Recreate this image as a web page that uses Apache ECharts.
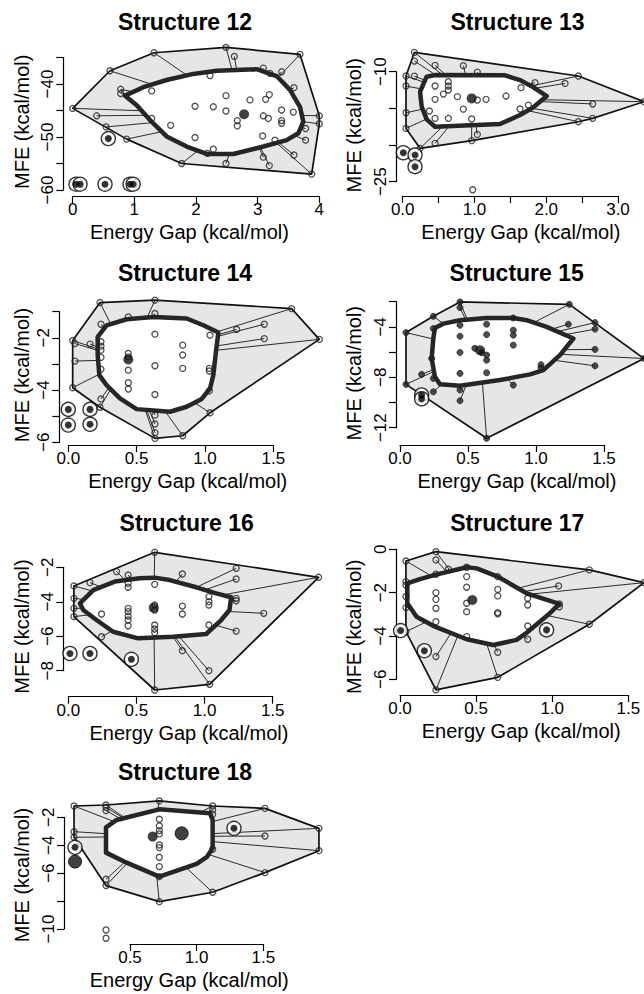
<!DOCTYPE html>
<html><head><meta charset="utf-8">
<script src="https://cdn.jsdelivr.net/npm/echarts@6/dist/echarts.min.js"></script>
<style>html,body{margin:0;padding:0;background:#fff}#c{width:644px;height:994px}</style>
</head><body><div id="c"></div>
<script>
// ---------- data ----------
const s12_hull = [[0,-44.6],[0.605,-37.5],[1.319,-34.1],[2.486,-33.1],[3.686,-34.4],[4.0,-46.0],[4.0,-47.5],[3.876,-57.0],[1.768,-55.0],[0.876,-50.4]];
const s12_bag = [[0.849,-42.2],[1.146,-40.6],[1.524,-39.25],[1.957,-38.1],[2.335,-37.5],[2.984,-37.2],[3.308,-38.5],[3.524,-41.1],[3.686,-44.3],[3.741,-47.1],[3.659,-49.3],[3.470,-50.6],[3.092,-51.8],[2.605,-53.2],[2.173,-53.2],[1.849,-51.8],[1.524,-49.9],[1.254,-46.8],[1.038,-44.0]];
const s12_pts = [[0.778,-41.0],[0.778,-41.8],[0.389,-46.0],[0.541,-48.1],[1.281,-41.3],[1.281,-46.5],[1.589,-47.8],[1.984,-44.2],[1.984,-50.1],[2.281,-44.3],[2.281,-52.3],[2.486,-42.2],[2.486,-45.1],[2.670,-46.9],[2.670,-47.9],[2.876,-43.0],[3.092,-46.0],[3.130,-42.9],[3.189,-42.0],[3.173,-46.5],[3.081,-49.8],[3.281,-50.6],[3.389,-44.9],[3.389,-46.9],[3.389,-47.4],[3.589,-40.7],[3.578,-45.3],[3.778,-48.4],[3.778,-50.6],[3.589,-53.4],[3.189,-55.4],[3.092,-53.8],[2.486,-55.0],[2.184,-53.1],[2.227,-38.4],[3.092,-37.0],[3.2,-38.0],[3.389,-37.7],[2.622,-34.8]];
const s12_out = [[0.054,-58.9],[0.119,-58.9],[0.524,-58.9],[0.930,-58.9],[0.980,-58.9],[0.578,-50.3]];
const s12_center = [2.78,-45.7];
const s12_xTicks = [0,1,2,3,4];
const s12_yTicks = [-60,-50,-40];

const s13_hull = [[0.163,-7.36],[2.448,-10.59],[3.363,-14.09],[2.647,-16.36],[2.448,-16.82],[0.961,-19.4],[0.242,-20.45],[0.046,-17.73],[0.046,-10.59]];
const s13_bag = [[0.334,-10.68],[0.451,-10.45],[1.426,-10.5],[1.635,-11.14],[1.821,-12.14],[2.007,-13.32],[1.821,-14.86],[1.635,-15.9],[1.356,-17.14],[0.451,-17.5],[0.334,-16.5],[0.265,-14.77],[0.242,-12.73]];
const s13_pts = [[0.163,-8.55],[0.451,-9.14],[0.845,-9.18],[1.04,-10.05],[0.163,-10.6],[0.046,-11.95],[0.046,-15.6],[0.451,-11.95],[0.451,-13.77],[0.567,-13.05],[0.636,-11.36],[0.636,-11.95],[0.636,-12.5],[0.762,-13.4],[0.845,-15.1],[0.636,-16.36],[0.451,-16.36],[0.372,-15.36],[0.961,-16.45],[1.04,-13.86],[1.161,-13.77],[1.44,-13.32],[1.04,-18.55],[0.451,-19.77],[1.649,-12.18],[1.844,-11.5],[2.262,-11.6],[1.635,-15.09],[1.751,-14.55],[2.647,-14.4]];
const s13_extra = [[0.975,-26.1]];
const s13_out = [[0.009,-21.05],[0.172,-21.36],[0.172,-22.95]];
const s13_center = [0.961,-13.64];
const s13_xTicks = [0,1,2,3];
const s13_yTicks = [-25,-10];

const s14_hull = [[0.232,-0.65],[0.634,-0.56],[1.634,-0.88],[1.837,-2.06],[1.037,-4.87],[0.837,-5.75],[0.634,-5.85],[0.232,-4.66],[0.032,-3.91],[0.032,-2.1]];
const s14_bag = [[0.215,-1.96],[0.280,-1.52],[0.427,-1.29],[0.622,-1.2],[0.866,-1.26],[0.988,-1.52],[1.098,-1.8],[1.080,-2.54],[1.061,-3.43],[1.037,-3.94],[0.976,-4.34],[0.866,-4.64],[0.744,-4.83],[0.5,-4.73],[0.378,-4.32],[0.280,-3.81],[0.227,-3.43],[0.215,-2.66]];
const s14_pts = [[0.634,-1.07],[0.439,-1.2],[0.239,-1.48],[0.049,-2.22],[0.049,-2.89],[0.159,-2.24],[0.239,-2.15],[0.239,-2.32],[0.239,-2.47],[0.239,-2.75],[0.239,-3.2],[0.634,-1.86],[0.837,-2.28],[0.837,-2.66],[0.837,-3.17],[0.634,-3.07],[0.439,-2.6],[0.439,-2.73],[0.439,-3.24],[0.439,-3.72],[0.439,-3.96],[0.634,-4.17],[1.037,-1.9],[1.232,-1.68],[1.434,-1.48],[1.434,-2.03],[1.032,-3.17],[1.032,-3.27],[1.032,-4.03],[0.634,-4.96],[0.634,-5.3],[0.634,-5.63],[0.239,-4.34]];
const s14_out = [[0,-4.74],[0,-5.34],[0.159,-4.74],[0.159,-5.31]];
const s14_center = [0.439,-2.83];
const s14_xTicks = [0,0.5,1,1.5];
const s14_yTicks = [-6,-4,-2];

const s15_hull = [[0.441,-2.02],[1.245,-2.21],[1.794,-6.51],[0.637,-12.84],[0.044,-8.56],[0.044,-4.45],[0.245,-3.16]];
const s15_bag = [[0.257,-4.08],[0.319,-3.74],[0.441,-3.47],[0.637,-3.29],[0.833,-3.29],[0.931,-3.47],[1.078,-4.0],[1.275,-4.92],[1.176,-6.24],[1.054,-7.43],[0.956,-7.77],[0.735,-8.22],[0.441,-8.67],[0.294,-8.56],[0.257,-7.96],[0.233,-6.51],[0.245,-4.92]];
const s15_pts = [[0.441,-2.47],[0.245,-4.13],[0.441,-3.87],[0.637,-3.79],[0.833,-3.29],[0.833,-4.26],[0.833,-4.66],[0.833,-5.45],[0.637,-4.61],[0.441,-4.74],[0.441,-6.03],[0.637,-6.24],[0.637,-6.64],[0.441,-7.69],[0.637,-7.64],[0.233,-6.51],[0.159,-7.77],[0.245,-8.09],[0.245,-9.15],[0.441,-9.01],[0.441,-9.86],[0.833,-8.62],[1.037,-7.0],[1.037,-7.25],[1.238,-3.79],[1.434,-3.66],[1.434,-4.18],[1.434,-5.79],[1.434,-7.09],[0.55,-5.7],[0.6,-6.05]];
const s15_out = [[0.159,-9.4],[0.159,-9.7]];
const s15_center = [0.588,-5.85];
const s15_xTicks = [0,0.5,1,1.5];
const s15_yTicks = [-12,-8,-4];

const s16_hull = [[0.634,-1.13],[1.837,-2.58],[1.037,-8.79],[0.634,-9.12],[0.041,-4.86],[0.041,-3.08]];
const s16_bag = [[0.085,-4.09],[0.183,-3.32],[0.341,-2.83],[0.524,-2.64],[0.634,-2.6],[0.744,-2.74],[0.939,-3.16],[1.085,-3.51],[1.195,-3.74],[1.183,-4.48],[1.122,-5.06],[1.012,-5.87],[0.768,-6.03],[0.512,-6.12],[0.329,-5.74],[0.207,-5.06],[0.11,-4.48]];
const s16_pts = [[0.041,-3.8],[0.041,-4.38],[0.159,-2.89],[0.354,-2.25],[0.439,-2.45],[0.439,-2.93],[0.439,-3.16],[0.634,-2.99],[0.837,-2.39],[1.232,-2.06],[1.232,-2.68],[1.232,-3.8],[1.232,-3.94],[1.032,-3.7],[1.032,-3.99],[1.032,-4.19],[1.434,-4.67],[1.232,-5.7],[1.032,-5.35],[0.837,-4.25],[0.837,-4.71],[0.634,-4.19],[0.634,-4.48],[0.439,-4.38],[0.439,-4.57],[0.439,-4.83],[0.439,-5.06],[0.439,-5.39],[0.244,-4.71],[0.634,-5.35],[0.634,-5.58],[0.634,-5.79],[0.244,-6.03],[0.837,-6.84],[1.032,-8.0]];
const s16_out = [[0.012,-7.0],[0.159,-7.0],[0.463,-7.34]];
const s16_center = [0.627,-4.34];
const s16_xTicks = [0,0.5,1,1.5];
const s16_yTicks = [-8,-6,-4,-2];

const s17_hull = [[0.039,-0.54],[0.236,-0.11],[1.244,-0.95],[1.603,-1.54],[1.244,-3.46],[0.642,-5.91],[0.236,-6.49],[0.039,-3.8]];
const s17_bag = [[0.048,-1.57],[0.131,-1.38],[0.23,-1.18],[0.438,-0.83],[0.504,-0.88],[0.642,-1.26],[0.832,-2.03],[1.047,-2.52],[0.985,-2.95],[0.832,-3.85],[0.766,-4.18],[0.613,-4.42],[0.438,-4.15],[0.23,-3.57],[0.109,-3.11],[0.048,-2.49]];
const s17_pts = [[0.236,-0.49],[0.318,-0.92],[0.039,-1.49],[0.039,-1.65],[0.039,-2.18],[0.039,-2.69],[0.236,-1.15],[0.236,-2.0],[0.236,-2.31],[0.236,-2.72],[0.236,-3.34],[0.438,-0.83],[0.438,-1.26],[0.438,-1.75],[0.438,-2.49],[0.438,-2.88],[0.642,-1.26],[0.642,-1.85],[0.642,-2.15],[0.642,-2.92],[0.642,-2.98],[0.839,-2.26],[0.839,-2.57],[1.042,-1.69],[1.047,-2.52],[1.047,-2.65],[0.839,-3.54],[0.839,-4.15],[0.642,-4.75],[0.438,-4.03],[0.236,-4.95]];
const s17_out = [[0.004,-3.75],[0.16,-4.68],[0.963,-3.72]];
const s17_center = [0.475,-2.34];
const s17_xTicks = [0,0.5,1,1.5];
const s17_yTicks = [-6,-4,-2,0];

const s18_hull = [[0.08,-1.19],[0.32,-1.12],[0.72,-0.83],[1.12,-1.19],[1.5125,-1.36],[1.9175,-2.79],[1.9175,-4.39],[1.5125,-5.96],[1.12,-7.37],[0.72,-8.04],[0.32,-6.89],[0.08,-3.43]];
const s18_bag = [[0.32,-2.72],[0.4,-2.19],[0.72,-1.43],[1.1,-1.71],[1.12,-2.19],[1.12,-4.22],[1.075,-4.86],[1.0,-5.34],[0.72,-6.25],[0.475,-5.25],[0.32,-4.53]];
const s18_pts = [[0.08,-3.03],[0.32,-1.28],[0.32,-1.52],[0.32,-6.44],[0.72,-2.14],[0.72,-2.62],[0.72,-2.95],[0.72,-3.19],[0.72,-3.98],[0.72,-4.17],[0.72,-4.86],[0.72,-5.53],[0.72,-6.25],[1.12,-1.47],[1.12,-1.79],[1.12,-4.29],[1.5125,-3.34]];
const s18_extra = [[0.32,-10.07],[0.32,-10.66]];
const s18_out = [[0.0875,-4.15],[1.28,-2.79]];
const s18_dense = [[0.0875,-5.17],[0.8875,-3.15]];
const s18_center = [0.67,-3.38];
const s18_xTicks = [0.5,1,1.5];
const s18_yTicks = [-10,-6,-4,-2];

// ---------- layout ----------
const FONT = 'Liberation Sans, Arial, Helvetica, sans-serif';
const panels = [
 {title:'Structure 12', tx:185, ty:21.7, grid:{left:72.7,top:57.5,width:246.6,height:132.5},
  hull:s12_hull, bag:s12_bag, pts:s12_pts, out:s12_out, dense:[], extra:[], center:s12_center,
  x:{min:0,max:4,interval:1,ticks:s12_xTicks,dec:0,offset:6,pad:[0,13,0,0]},
  y:{min:-60,max:-35,interval:5,ticks:s12_yTicks,offset:9.4,gap:31,pad:[0,0,0,4]}},
 {title:'Structure 13', tx:517.5, ty:21.7, grid:{left:402.7,top:71.7,width:215.3,height:110},
  hull:s13_hull, bag:s13_bag, pts:s13_pts, out:s13_out, dense:[], extra:s13_extra, center:s13_center,
  x:{min:0,max:3,interval:0.5,ticks:s13_xTicks,dec:1,offset:14.3,pad:[0,0,0,21]},
  y:{min:-25,max:-10,interval:5,ticks:s13_yTicks,offset:6.7,gap:32,pad:[0,0,0,3]}},
 {title:'Structure 14', tx:185, ty:273, grid:{left:68.3,top:311.7,width:205,height:130.6},
  hull:s14_hull, bag:s14_bag, pts:s14_pts, out:s14_out, dense:[], extra:[], center:s14_center,
  x:{min:0,max:1.5,interval:0.5,ticks:s14_xTicks,dec:1,offset:2.7,pad:[0,0,0,34]},
  y:{min:-6,max:-1,interval:1,ticks:s14_yTicks,offset:9,gap:27,pad:[0,0,0,4]}},
 {title:'Structure 15', tx:516.7, ty:272.5, grid:{left:400,top:301.7,width:204,height:126},
  hull:s15_hull, bag:s15_bag, pts:s15_pts, out:s15_out, dense:[], extra:[], center:s15_center, solid:true,
  x:{min:0,max:1.5,interval:0.5,ticks:s15_xTicks,dec:1,offset:17.3,pad:[0,0,0,30]},
  y:{min:-12,max:-2,interval:2,ticks:s15_yTicks,offset:4,gap:32,pad:[0,17,0,0]}},
 {title:'Structure 16', tx:186.7, ty:523.3, grid:{left:68.3,top:567.3,width:204.4,height:103.4},
  hull:s16_hull, bag:s16_bag, pts:s16_pts, out:s16_out, dense:[], extra:[], center:s16_center,
  x:{min:0,max:1.5,interval:0.5,ticks:s16_xTicks,dec:1,offset:26,pad:[0,0,0,37]},
  y:{min:-8,max:-2,interval:2,ticks:s16_yTicks,offset:5,gap:31,pad:[0,15,0,0]}},
 {title:'Structure 17', tx:517.3, ty:523.3, grid:{left:400,top:549.3,width:228.3,height:130},
  hull:s17_hull, bag:s17_bag, pts:s17_pts, out:s17_out, dense:[], extra:[], center:s17_center,
  x:{min:0,max:1.5,interval:0.5,ticks:s17_xTicks,dec:1,offset:15.7,pad:[0,0,0,14]},
  y:{min:-6,max:0,interval:2,ticks:s17_yTicks,offset:4,gap:32,pad:[0,25,0,0]}},
 {title:'Structure 18', tx:185, ty:771.7, grid:{left:130,top:817.3,width:133.3,height:111.7},
  hull:s18_hull, bag:s18_bag, pts:s18_pts, out:s18_out, dense:s18_dense, extra:s18_extra, center:s18_center,
  x:{min:0.5,max:1.5,interval:0.5,ticks:s18_xTicks,dec:1,offset:15,pad:[0,15,0,0]},
  y:{min:-10,max:-2,interval:2,ticks:s18_yTicks,offset:66,gap:32,pad:[0,4,0,0]}}
];

// ---------- geometry helpers (data space) ----------
function inPoly(p, poly){
  let c=false;
  for(let i=0,j=poly.length-1;i<poly.length;j=i++){
    const a=poly[i], b=poly[j];
    if(((a[1]>p[1])!==(b[1]>p[1])) && (p[0] < (b[0]-a[0])*(p[1]-a[1])/(b[1]-a[1])+a[0])) c=!c;
  }
  return c;
}
function cutBag(p, c, poly){
  const dx=c[0]-p[0], dy=c[1]-p[1];
  let best=Infinity, hit=null;
  for(let i=0;i<poly.length;i++){
    const a=poly[i], b=poly[(i+1)%poly.length];
    const ex=b[0]-a[0], ey=b[1]-a[1];
    const den=dx*ey-dy*ex;
    if(Math.abs(den)<1e-12) continue;
    const t=((a[0]-p[0])*ey-(a[1]-p[1])*ex)/den;
    const u=((a[0]-p[0])*dy-(a[1]-p[1])*dx)/den;
    if(t>=0 && t<=1 && u>=0 && u<=1 && t<best){best=t; hit=[p[0]+t*dx,p[1]+t*dy];}
  }
  return hit;
}
function fmt(v,dec){ const s=Math.abs(v).toFixed(dec); return (v<-1e-9?'\u2212':'')+s; }

const option = {animation:false, backgroundColor:'#fff', title:[], grid:[], xAxis:[], yAxis:[], series:[]};

panels.forEach((P,i)=>{
  option.title.push({text:P.title, left:P.tx, top:P.ty, textAlign:'center', textVerticalAlign:'middle', padding:0,
    textStyle:{fontSize:23, fontWeight:'bold', color:'#000', fontFamily:FONT}});
  option.grid.push(Object.assign({containLabel:false, outerBoundsMode:'none'}, P.grid));
  const axLine = {show:true, onZero:false, lineStyle:{color:'#000', width:1.2}};
  const axTick = {show:true, inside:false, length:7, lineStyle:{color:'#000', width:1.2}};
  option.xAxis.push({gridIndex:i, type:'value', min:P.x.min, max:P.x.max, interval:P.x.interval, offset:P.x.offset,
    axisLine:axLine, axisTick:axTick, splitLine:{show:false},
    axisLabel:{show:true, margin:5, fontSize:17, lineHeight:17, color:'#000', fontFamily:FONT, showMinLabel:true, showMaxLabel:true,
      formatter:v=> P.x.ticks.some(t=>Math.abs(t-v)<1e-6) ? fmt(v,P.x.dec) : ''},
    name:'Energy Gap (kcal/mol)', nameLocation:'middle', nameGap:26, nameMoveOverlap:false,
    nameTextStyle:{fontSize:20, lineHeight:20, color:'#000', fontFamily:FONT, padding:P.x.pad}});
  option.yAxis.push({gridIndex:i, type:'value', min:P.y.min, max:P.y.max, interval:P.y.interval, offset:P.y.offset,
    axisLine:axLine, axisTick:axTick, splitLine:{show:false},
    axisLabel:{show:true, rotate:90, margin:7, fontSize:17, lineHeight:17, color:'#000', fontFamily:FONT, showMinLabel:true, showMaxLabel:true,
      formatter:v=> P.y.ticks.some(t=>Math.abs(t-v)<1e-6) ? fmt(v,0) : ''},
    name:'MFE (kcal/mol)', nameLocation:'middle', nameGap:P.y.gap, nameMoveOverlap:false,
    nameTextStyle:{fontSize:20, lineHeight:20, color:'#000', fontFamily:FONT, padding:P.y.pad}});

  const poly = (pts, style, z) => ({type:'custom', xAxisIndex:i, yAxisIndex:i, z:z, silent:true, clip:false,
    data:[pts[0]],
    renderItem:(params, api)=>({type:'polygon', shape:{points: pts.map(p=>api.coord(p))}, style:style})});

  // fence (loop hull)
  option.series.push(poly(P.hull, {fill:'#e5e6e8', stroke:'#111', lineWidth:1.7, lineJoin:'round'}, 1));
  // whiskers: from each point outside the bag toward the centre, up to the bag boundary
  const spokes = [];
  P.hull.concat(P.pts).forEach(p=>{
    if(inPoly(p, P.bag)) return;
    const h = cutBag(p, P.center, P.bag);
    if(h) spokes.push([p[0],p[1],h[0],h[1]]);
  });
  option.series.push({type:'custom', xAxisIndex:i, yAxisIndex:i, z:2, silent:true, clip:false, data:spokes,
    renderItem:(params, api)=>{
      const a=api.coord([api.value(0),api.value(1)]), b=api.coord([api.value(2),api.value(3)]);
      return {type:'line', shape:{x1:a[0],y1:a[1],x2:b[0],y2:b[1]}, style:{stroke:'#2a2a2a', lineWidth:1}};
    }});
  // bag
  option.series.push(poly(P.bag, {fill:'#ffffff', stroke:'#262626', lineWidth:4.5, lineJoin:'round'}, 3));
  // points
  const ptStyle = P.solid ? {color:'#222', borderColor:'#222', borderWidth:1} : {color:'rgba(0,0,0,0)', borderColor:'#222', borderWidth:1.3};
  option.series.push({type:'scatter', xAxisIndex:i, yAxisIndex:i, z:4, silent:true, clip:false, symbol:'circle', symbolSize:6,
    itemStyle:ptStyle, data:P.hull.concat(P.pts)});
  option.series.push({type:'scatter', xAxisIndex:i, yAxisIndex:i, z:4, silent:true, clip:false, symbol:'circle', symbolSize:6,
    itemStyle:{color:'#fff', borderColor:'#222', borderWidth:1.3}, data:P.extra});
  // outliers: ring + dot
  option.series.push({type:'scatter', xAxisIndex:i, yAxisIndex:i, z:5, silent:true, clip:false, symbol:'circle', symbolSize:14,
    itemStyle:{color:'#fff', borderColor:'#000', borderWidth:1.4}, data:P.out});
  option.series.push({type:'scatter', xAxisIndex:i, yAxisIndex:i, z:6, silent:true, clip:false, symbol:'circle', symbolSize:7,
    itemStyle:{color:'#000'}, data:P.out});
  option.series.push({type:'scatter', xAxisIndex:i, yAxisIndex:i, z:6, silent:true, clip:false, symbol:'circle', symbolSize:13,
    itemStyle:{color:'#111', borderColor:'#000', borderWidth:1}, data:P.dense});
  // centre
  option.series.push({type:'scatter', xAxisIndex:i, yAxisIndex:i, z:7, silent:true, clip:false, symbol:'circle', symbolSize:10,
    itemStyle:{color:'#111'}, data:[P.center]});
});

const chart = echarts.init(document.getElementById('c'), null, {renderer:'svg', width:644, height:994});
chart.setOption(option);
</script>
</body></html>
